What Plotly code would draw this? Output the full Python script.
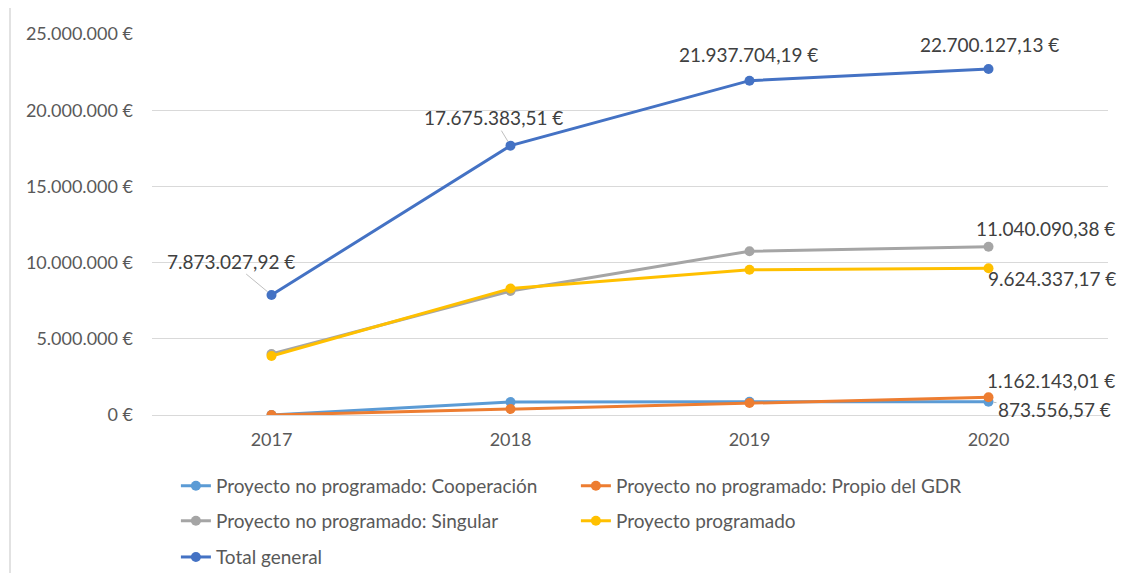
"""
Evolución anual de importes por tipo de proyecto.
"""
import plotly.graph_objects as go

years = ['2017', '2018', '2019', '2020']

cooperacion = [0, 850000, 870000, 873556.57]
propio_gdr = [0, 390000, 790000, 1162143.01]
singular = [4000000, 8140000, 10750000, 11040090.38]
programado = [3873027.92, 8295383.51, 9527704.19, 9624337.17]
total_general = [7873027.92, 17675383.51, 21937704.19, 22700127.13]

series_names = [
    'Proyecto no programado: Cooperación',
    'Proyecto no programado: Propio del GDR',
    'Proyecto no programado: Singular',
    'Proyecto programado',
    'Total general',
]
series_values = [cooperacion, propio_gdr, singular, programado, total_general]
series_colors = ['#5B9BD5', '#ED7D31', '#A5A5A5', '#FFC000', '#4472C4']
# fila de la leyenda en la que va cada serie
series_legend = ['legend', 'legend', 'legend2', 'legend2', 'legend3']

y_ticks = [0, 5000000, 10000000, 15000000, 20000000, 25000000]

TEXT = '#595959'
LABEL = '#404040'
FONT = 'Lato, Open Sans, Arial, sans-serif'
FS = 19


def eur(v, decimals=2):
    s = f'{v:,.{decimals}f}'
    s = s.replace(',', 'X').replace('.', ',').replace('X', '.')
    return s + ' €'


fig = go.Figure()
for name, vals, color, leg in zip(series_names, series_values, series_colors, series_legend):
    fig.add_trace(go.Scatter(
        x=years, y=vals, name=name, mode='lines+markers',
        line=dict(color=color, width=3),
        marker=dict(color=color, size=10),
        legend=leg,
    ))

# etiquetas de datos: (serie, índice, dx, dy, flecha)
labels = [
    (total_general, 0, -41, -34, True),
    (total_general, 1, -17, -28, True),
    (total_general, 2, -1, -26, False),
    (total_general, 3, 1, -25, False),
    (singular, 3, 57, -18, False),
    (programado, 3, 63, 10, False),
    (propio_gdr, 3, 62, -17, False),
    (cooperacion, 3, 66, 8, True),
]
for vals, i, dx, dy, arrow in labels:
    common = dict(x=i, y=vals[i], text=eur(vals[i]),
                  font=dict(size=FS, color=LABEL, family=FONT))
    if arrow:
        fig.add_annotation(
            showarrow=True, arrowhead=0, arrowwidth=1, arrowcolor='#BFBFBF',
            ax=dx, ay=dy, standoff=5, **common,
        )
    else:
        fig.add_annotation(showarrow=False, xshift=dx, yshift=-dy, **common)

# borde izquierdo del área del gráfico
fig.add_shape(type='line', xref='paper', yref='paper',
              x0=-142 / 956, x1=-142 / 956, y0=-0.5, y1=1.2,
              line=dict(color='#D9D9D9', width=1.5))

legend_common = dict(
    orientation='h', x=0.025, xanchor='left', yanchor='middle',
    entrywidth=355, entrywidthmode='pixels',
    font=dict(size=FS, color=TEXT, family=FONT), itemwidth=30,
    bgcolor='rgba(0,0,0,0)',
)

fig.update_layout(
    width=1125, height=573,
    template='plotly_white',
    paper_bgcolor='white', plot_bgcolor='white',
    margin=dict(l=144, r=25, t=26, b=166, autoexpand=False),
    font=dict(family=FONT, size=FS, color=TEXT),
    showlegend=True,
    legend=dict(y=-0.186, **legend_common),
    legend2=dict(y=-0.278, **legend_common),
    legend3=dict(y=-0.373, **legend_common),
    xaxis=dict(
        type='category', range=[-0.5, 3.5], showgrid=False, zeroline=False,
        showline=False, ticks='', ticklabelstandoff=12,
        tickfont=dict(size=FS - 1, color=TEXT),
    ),
    yaxis=dict(
        range=[0, 25000000], tickvals=y_ticks,
        ticktext=[eur(v, 0) for v in y_ticks],
        showgrid=True, gridcolor='#D9D9D9', gridwidth=1,
        zeroline=True, zerolinecolor='#D9D9D9', zerolinewidth=1,
        showline=False, ticks='', ticklabelstandoff=18,
        tickfont=dict(size=FS - 1, color=TEXT),
    ),
)

fig.write_html('out.html')
